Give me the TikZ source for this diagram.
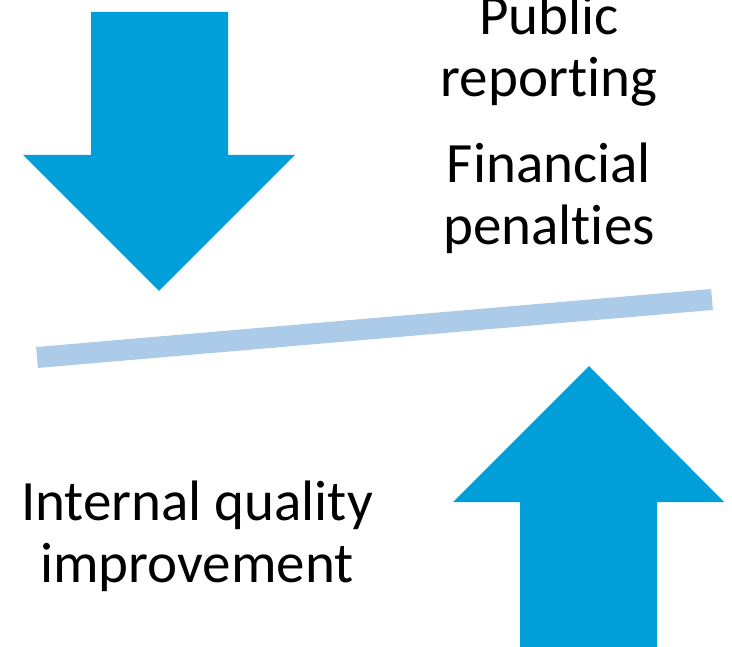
\documentclass[tikz,border=0pt]{standalone}
\usepackage{fontspec}
\setmainfont[Ligatures=NoCommon]{Carlito}
\usepackage{xcolor}
\usetikzlibrary{calc}

\definecolor{arrowblue}{RGB}{0,159,218}
\definecolor{barblue}{RGB}{171,203,232}

\begin{document}
\begin{tikzpicture} [
       x=1pt, y=-1pt,
       bigarrow/.style={fill=arrowblue, draw=none},
       seesaw/.style={draw=barblue, line width=21pt, line cap=butt},
       label/.style={text badly centered, align=center, inner sep=0pt,
               anchor=base, font=\fontsize{57}{62}\selectfont},
       ]
       \useasboundingbox (0,0) rectangle (732,647);
       \clip (0,0) rectangle (732,647);
       % pressure from outside
       \fill[bigarrow] (91,12) -- (228,12) -- (228,155) -- (295,155)
               -- (159,291) -- (23,155) -- (91,155) -- cycle;
       % pressure from inside
       \fill[bigarrow] (520,660) -- (657,660) -- (657,502) -- (724,502)
               -- (589,366) -- (453,502) -- (520,502) -- cycle;
       \coordinate (left) at (37,357.5);
       \coordinate (right) at (712,299.5);
       \draw[seesaw] (left) -- (right);
       \node (public) [label] at (549,97) {Public\\reporting};
       \node (penalty) [label] at (549,245) {Financial\\penalties};
       \node (internal) [label] at (197,582) {Internal quality\\improvement};
\end{tikzpicture}
\end{document}
